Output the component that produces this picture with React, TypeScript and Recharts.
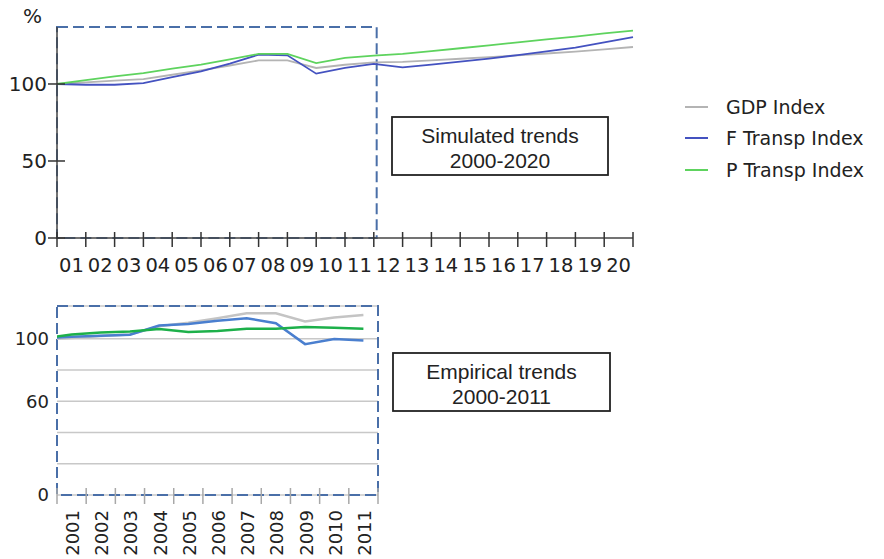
import React from "react";
import { LineChart, Line, XAxis, YAxis, CartesianGrid, ReferenceArea, Legend } from "recharts";

// simulated trends 2000-2020 (index, 2000 = 100)
const SIM_YEARS = [2000, 2001, 2002, 2003, 2004, 2005, 2006, 2007, 2008, 2009, 2010, 2011, 2012, 2013, 2014, 2015, 2016, 2017, 2018, 2019, 2020];
const SIM_GDP = [100, 101, 102.2, 103.2, 106, 108.8, 112, 115.3, 115.3, 110.4, 112.5, 114, 114.3, 115.3, 116.4, 117.5, 118.6, 119.8, 121, 122.5, 124];
const SIM_FREIGHT = [100, 99.5, 99.5, 100.6, 104.5, 108.2, 113.2, 119, 118.6, 106.7, 110.4, 113, 110.8, 112.6, 114.5, 116.5, 118.8, 121.2, 123.6, 127, 130.5];
const SIM_PASS = [100, 102.5, 105, 107.1, 110, 112.5, 116, 119.5, 119.5, 113.6, 116.9, 118.4, 119.5, 121.3, 123.2, 125.1, 127, 128.9, 130.8, 132.8, 134.6];
const SIM_Y_TICKS = [0, 50, 100];

// empirical trends 2000-2011
const EMP_YEARS = [2000, 2001, 2002, 2003, 2004, 2005, 2006, 2007, 2008, 2009, 2010, 2011];
const EMP_GDP = [99.5, 100.5, 101.8, 102.8, 108, 110.3, 113.2, 116.4, 116.4, 111.1, 113.7, 115.2];
const EMP_FREIGHT = [100.5, 101.3, 102, 102.6, 108.5, 109.5, 111.5, 113.2, 110, 96.6, 99.8, 98.9];
const EMP_PASS = [100.2, 102.8, 104, 104.7, 106.2, 104.3, 105, 106.4, 106.4, 107.5, 107, 106.4];
const EMP_Y_TICKS = [0, 20, 40, 60, 80, 100];
const EMP_Y_LABELS = [0, 60, 100];
const EMP_X_TICKS = [2000.5, 2001.5, 2002.5, 2003.5, 2004.5, 2005.5, 2006.5, 2007.5, 2008.5, 2009.5, 2010.5, 2011.5];

const NAMES = ["GDP Index", "F Transp Index", "P Transp Index"];

const simRows = SIM_YEARS.map((year, i) => ({
  year,
  gdp: SIM_GDP[i],
  freight: SIM_FREIGHT[i],
  pass: SIM_PASS[i],
}));
const empRows = EMP_YEARS.map((year, i) => ({
  year,
  gdp: EMP_GDP[i],
  freight: EMP_FREIGHT[i],
  pass: EMP_PASS[i],
}));

const FONT = "'DejaVu Sans', Verdana, sans-serif";
const BOX_FONT = "'Liberation Sans', Arial, sans-serif";
const DASH = "#4a6fa8";
const SIM_STEP = 576 / 20;
const EMP_STEP = 321 / 11;

function SimXTick({ x, y, payload }: any) {
  const v = payload.value as number;
  return (
    <g>
      <line x1={x} x2={x} y1={y - 6} y2={y + 9} stroke="#333" strokeWidth={1.5} />
      {v < 2020 && (
        <text x={x + SIM_STEP / 2} y={y + 34} textAnchor="middle" fontFamily={FONT} fontSize={19.5} fill="#222">
          {String(v + 1).slice(2)}
        </text>
      )}
    </g>
  );
}

function SimYTick({ x, y, payload }: any) {
  return (
    <g>
      <line x1={x - 9} x2={x + 8} y1={y} y2={y} stroke="#333" strokeWidth={1.5} />
      <text x={x - 10} y={y} dy="0.36em" textAnchor="end" fontFamily={FONT} fontSize={20} fill="#222">
        {payload.value}
      </text>
    </g>
  );
}

function EmpXTick({ x, y, payload }: any) {
  const v = payload.value as number;
  const lx = x + EMP_STEP / 2 + 1;
  return (
    <g>
      <line x1={x} x2={x} y1={y - 7} y2={y + 9} stroke="#a8a8a8" strokeWidth={1.5} />
      {v < 2011 && (
        <text
          x={lx}
          y={y + 15}
          dy="0.36em"
          transform={`rotate(-90 ${lx} ${y + 15})`}
          textAnchor="end"
          fontFamily={FONT}
          fontSize={18}
          fill="#222"
        >
          {v + 0.5}
        </text>
      )}
    </g>
  );
}

function EmpYTick({ x, y, payload }: any) {
  if (!EMP_Y_LABELS.includes(payload.value)) return <g />;
  return (
    <text x={x - 8} y={y} dy="0.36em" textAnchor="end" fontFamily={FONT} fontSize={18} fill="#222">
      {payload.value}
    </text>
  );
}

function LegendBox({ payload }: any) {
  const items = [...(payload || [])].sort((a: any, b: any) => NAMES.indexOf(a.value) - NAMES.indexOf(b.value));
  return (
    <div style={{ fontFamily: FONT, fontSize: 19, color: "#222" }}>
      {items.map((p: any) => (
        <div key={p.value} style={{ display: "flex", alignItems: "center", height: 31.5, whiteSpace: "nowrap" }}>
          <span style={{ display: "inline-block", width: 23, borderTop: `2px solid ${p.color}`, marginRight: 18 }} />
          {p.value}
        </div>
      ))}
    </div>
  );
}

export default function App() {
  return (
    <div style={{ position: "absolute", left: 0, top: 0, width: 884, height: 559, background: "#fff" }}>
      <div style={{ position: "absolute", left: 0, top: 0 }}>
        <LineChart width={884} height={290} data={simRows} margin={{ top: 27, right: 251, left: 0, bottom: 12 }}>
          <XAxis
            dataKey="year"
            type="number"
            domain={[2000, 2020]}
            ticks={SIM_YEARS}
            interval={0}
            height={40}
            tickSize={0}
            tickMargin={0}
            tickLine={false}
            axisLine={{ stroke: "#444", strokeWidth: 1.5 }}
            tick={<SimXTick />}
          />
          <YAxis
            type="number"
            domain={[0, 137]}
            ticks={SIM_Y_TICKS}
            interval={0}
            width={57}
            tickSize={0}
            tickMargin={0}
            tickLine={false}
            axisLine={{ stroke: "#444", strokeWidth: 1.5 }}
            tick={<SimYTick />}
          />
          <ReferenceArea
            x1={2000}
            x2={2011.1}
            y1={0}
            y2={137}
            fill="none"
            stroke={DASH}
            strokeWidth={2}
            strokeDasharray="11 5"
            ifOverflow="visible"
          />
          <Line dataKey="gdp" name={NAMES[0]} stroke="#b4b4b4" strokeWidth={1.8} dot={false} isAnimationActive={false} />
          <Line dataKey="freight" name={NAMES[1]} stroke="#4452c0" strokeWidth={1.8} dot={false} isAnimationActive={false} />
          <Line dataKey="pass" name={NAMES[2]} stroke="#5ed35e" strokeWidth={1.8} dot={false} isAnimationActive={false} />
          <Legend
            layout="vertical"
            align="center"
            verticalAlign="middle"
            content={<LegendBox />}
            wrapperStyle={{ left: 685, top: 91, width: 195 }}
          />
        </LineChart>
      </div>
      <div style={{ position: "absolute", left: 0, top: 290 }}>
        <LineChart width={400} height={269} data={empRows} margin={{ top: 16, right: 22, left: 0, bottom: 24 }}>
          <CartesianGrid vertical={false} stroke="#c8c8c8" strokeWidth={1.5} />
          <XAxis
            dataKey="year"
            type="number"
            domain={[2000.5, 2011.5]}
            allowDataOverflow
            ticks={EMP_X_TICKS}
            interval={0}
            height={40}
            tickSize={0}
            tickMargin={0}
            tickLine={false}
            axisLine={false}
            tick={<EmpXTick />}
          />
          <YAxis
            type="number"
            domain={[0, 121]}
            ticks={EMP_Y_TICKS}
            interval={0}
            width={57}
            tickSize={0}
            tickMargin={0}
            tickLine={false}
            axisLine={false}
            tick={<EmpYTick />}
          />
          <Line dataKey="gdp" name={NAMES[0]} stroke="#c4c4c4" strokeWidth={2.5} dot={false} isAnimationActive={false} />
          <Line dataKey="freight" name={NAMES[1]} stroke="#4a7fcf" strokeWidth={2.5} dot={false} isAnimationActive={false} />
          <Line dataKey="pass" name={NAMES[2]} stroke="#1db04a" strokeWidth={2.5} dot={false} isAnimationActive={false} />
          <ReferenceArea
            x1={2000.5}
            x2={2011.5}
            y1={0}
            y2={121}
            fill="none"
            stroke={DASH}
            strokeWidth={2}
            strokeDasharray="11 5"
            ifOverflow="visible"
          />
        </LineChart>
      </div>
      <svg width={884} height={559} style={{ position: "absolute", left: 0, top: 0, pointerEvents: "none" }}>
        <text x={23} y={23} fontFamily={FONT} fontSize={20} fill="#222">%</text>
        <rect x={392} y={117} width={216} height={58} fill="#fff" stroke="#222" strokeWidth={1.8} />
        <text x={500} y={143} textAnchor="middle" fontFamily={BOX_FONT} fontSize={21} fill="#222">Simulated trends</text>
        <text x={500} y={168} textAnchor="middle" fontFamily={BOX_FONT} fontSize={21} fill="#222">2000-2020</text>
        <rect x={393} y={353} width={217} height={58} fill="#fff" stroke="#222" strokeWidth={1.8} />
        <text x={501.5} y={379} textAnchor="middle" fontFamily={BOX_FONT} fontSize={21} fill="#222">Empirical trends</text>
        <text x={501.5} y={404} textAnchor="middle" fontFamily={BOX_FONT} fontSize={21} fill="#222">2000-2011</text>
      </svg>
    </div>
  );
}
